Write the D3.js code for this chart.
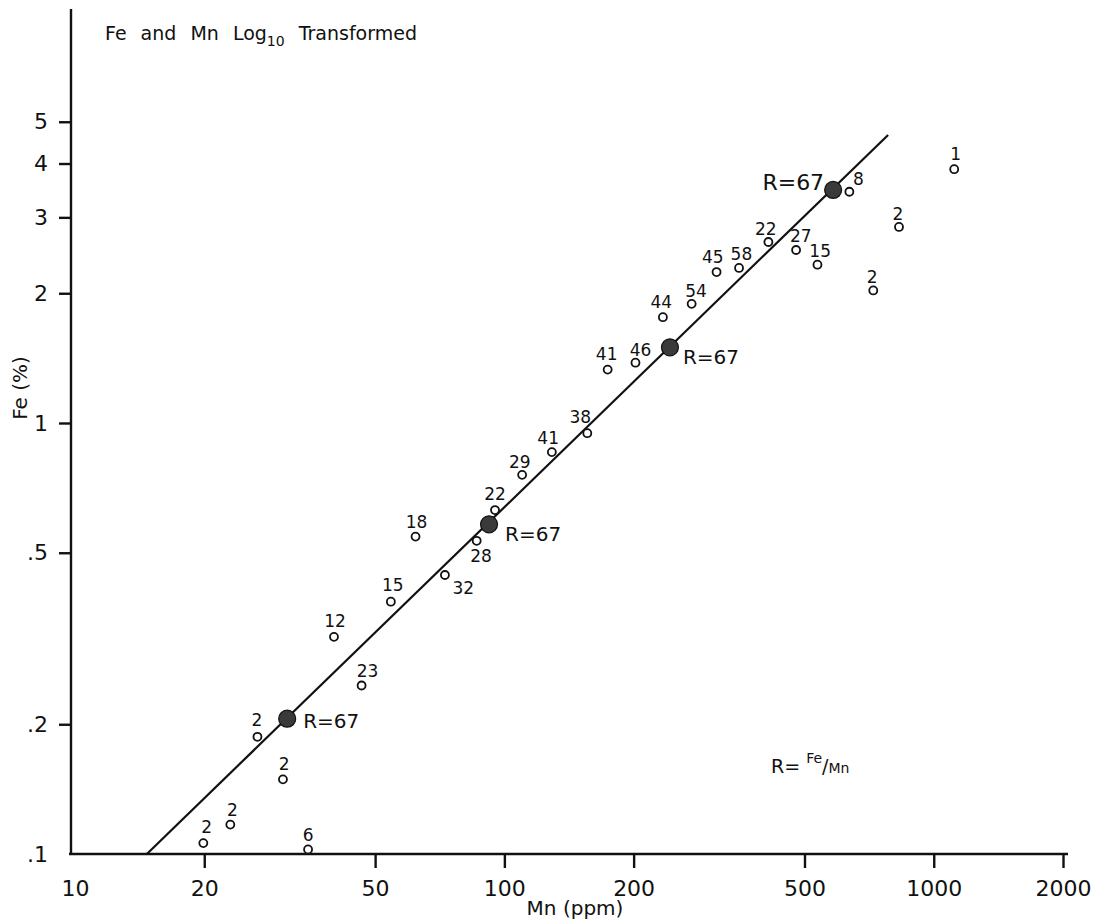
<!DOCTYPE html>
<html>
<head>
<meta charset="utf-8">
<script src="https://cdn.jsdelivr.net/npm/d3@7"></script>
<style>
  html, body { margin: 0; padding: 0; background: #fff; }
  svg { display: block; font-family: "DejaVu Sans", sans-serif; }
  text { fill: #111; }
</style>
</head>
<body>
<svg id="chart" width="1096" height="921"></svg>
<script>
// ---------------- data ----------------
const xTicks = [10, 20, 50, 100, 200, 500, 1000, 2000];
const xTickLabels = ["10", "20", "50", "100", "200", "500", "1000", "2000"];
const yTicks = [0.1, 0.2, 0.5, 1, 2, 3, 4, 5];
const yTickLabels = [".1", ".2", ".5", "1", "2", "3", "4", "5"];

// sample points: Mn (ppm), Fe (%), number label
const pointLabels = ["1","8","2","22","27","15","58","45","2","54","44","46","41","38","41","29","22","28","18","32","15","12","23","2","2","2","2","6"];
const pointMn = [1116, 636, 830, 412, 478, 536, 352, 312, 723, 273, 234, 202, 174, 156, 129, 110, 95.1, 86.2, 62.1, 72.7, 54.4, 40.1, 46.5, 26.6, 30.5, 23.0, 19.9, 34.9];
const pointFe = [3.88, 3.44, 2.85, 2.63, 2.52, 2.33, 2.29, 2.24, 2.03, 1.89, 1.76, 1.38, 1.33, 0.947, 0.856, 0.758, 0.628, 0.533, 0.545, 0.444, 0.385, 0.319, 0.246, 0.187, 0.149, 0.117, 0.106, 0.1025];

// reference points on the R = 67 line
const refMn = [31.2, 92.1, 243, 583];
const refFe = [0.206, 0.582, 1.498, 3.473];
const refLabels = ["R=67", "R=67", "R=67", "R=67"];

// R = 67 line end points
const lineMn = [14.7, 783];
const lineFe = [0.1, 4.66];

// ---------------- layout (not data) ----------------
const labelOffsets = [
  [1.4,-15],[9,-13],[-1,-13.3],[-2.6,-12.7],[4.7,-14],[2.7,-14],[2.4,-14],[-3.7,-15],
  [-1,-13.7],[4.3,-12.6],[-1.6,-15],[5,-13],[-1,-15.3],[-7,-16],[-3.7,-14.7],[-2.3,-12.7],
  [0,-16],[4.3,14.6],[1,-15],[18.3,12.7],[2,-16.7],[1,-16],[6,-14.4],[-0.6,-17],
  [1.3,-15.7],[2,-15],[3.4,-16],[0,-14.3]
];
const refLabelLayout = [
  {dx: 16, dy: 1.7, anchor: "start", size: 20},
  {dx: 16, dy: 9, anchor: "start", size: 20},
  {dx: 13, dy: 9, anchor: "start", size: 20},
  {dx: -9, dy: -8, anchor: "end", size: 22}
];

const svg = d3.select("#chart");
svg.append("rect").attr("width", 1096).attr("height", 921).attr("fill", "#fff");

const x = d3.scaleLog().domain([10, 2000]).range([75, 1063]);
const y = d3.scaleLog().domain([0.1, 10]).range([854, -8]);

const axisX0 = 71;           // y-axis position
const axisY0 = y(0.1);       // x-axis position

// axis lines
svg.append("line")
  .attr("x1", axisX0).attr("x2", axisX0)
  .attr("y1", axisY0 + 1).attr("y2", y(9.13))
  .attr("stroke", "#111").attr("stroke-width", 2.4);
svg.append("line")
  .attr("x1", axisX0 - 2).attr("x2", x(2000) + 5)
  .attr("y1", axisY0).attr("y2", axisY0)
  .attr("stroke", "#111").attr("stroke-width", 2.4);

// x axis
const gx = svg.append("g")
  .attr("transform", `translate(0,${axisY0})`)
  .call(d3.axisBottom(x).tickValues(xTicks)
    .tickFormat((d, i) => xTickLabels[i])
    .tickSize(14).tickPadding(12));
gx.select(".domain").remove();
gx.selectAll(".tick line").attr("stroke", "#111").attr("stroke-width", 2.4)
  .filter(d => d === 10).remove();
gx.selectAll(".tick text").attr("font-size", 22).attr("font-family", "DejaVu Sans").attr("fill", "#111");

// y axis
const gy = svg.append("g")
  .attr("transform", `translate(${axisX0},0)`)
  .call(d3.axisLeft(y).tickValues(yTicks)
    .tickFormat((d, i) => yTickLabels[i])
    .tickSize(12).tickPadding(11));
gy.select(".domain").remove();
gy.selectAll(".tick line").attr("stroke", "#111").attr("stroke-width", 2.4)
  .filter(d => d === 0.1).remove();
gy.selectAll(".tick text").attr("font-size", 22).attr("font-family", "DejaVu Sans").attr("fill", "#111");

// axis titles
svg.append("text")
  .attr("x", 575).attr("y", 915)
  .attr("text-anchor", "middle").attr("font-size", 20)
  .text("Mn (ppm)");
svg.append("text")
  .attr("transform", "translate(27,388) rotate(-90)")
  .attr("text-anchor", "middle").attr("font-size", 20)
  .text("Fe (%)");

// title
const title = svg.append("text")
  .attr("x", 105).attr("y", 40)
  .attr("font-size", 19).attr("word-spacing", 8);
title.append("tspan").text("Fe and Mn Log");
title.append("tspan").attr("font-size", 14).attr("dy", 6).text("10");
title.append("tspan").attr("dy", -6).text(" Transformed");

// R = Fe/Mn note
const note = svg.append("text").attr("x", 771).attr("y", 773).attr("font-size", 19);
note.append("tspan").text("R= ");
note.append("tspan").attr("font-size", 14).attr("dy", -10).text("Fe");
note.append("tspan").attr("dy", 10).text("/");
note.append("tspan").attr("font-size", 14).text("Mn");

// R = 67 line
svg.append("line")
  .attr("x1", x(lineMn[0])).attr("y1", y(lineFe[0]))
  .attr("x2", x(lineMn[1])).attr("y2", y(lineFe[1]))
  .attr("stroke", "#111").attr("stroke-width", 2.2);

// sample points
const pts = pointMn.map((m, i) => ({mn: m, fe: pointFe[i], label: pointLabels[i], off: labelOffsets[i]}));
svg.append("g").selectAll("circle").data(pts).join("circle")
  .attr("cx", d => x(d.mn)).attr("cy", d => y(d.fe))
  .attr("r", 4).attr("fill", "#fff").attr("stroke", "#111").attr("stroke-width", 1.8);
svg.append("g").selectAll("text").data(pts).join("text")
  .attr("x", d => x(d.mn) + d.off[0]).attr("y", d => y(d.fe) + d.off[1])
  .attr("dy", "0.36em").attr("text-anchor", "middle").attr("font-size", 17)
  .text(d => d.label);

// reference points
const refs = refMn.map((m, i) => ({mn: m, fe: refFe[i], label: refLabels[i], lay: refLabelLayout[i]}));
svg.append("g").selectAll("circle").data(refs).join("circle")
  .attr("cx", d => x(d.mn)).attr("cy", d => y(d.fe))
  .attr("r", 8.5).attr("fill", "#3a3a3a").attr("stroke", "#111").attr("stroke-width", 1.2);
svg.append("g").selectAll("text").data(refs).join("text")
  .attr("x", d => x(d.mn) + d.lay.dx).attr("y", d => y(d.fe) + d.lay.dy)
  .attr("dy", "0.36em").attr("text-anchor", d => d.lay.anchor).attr("font-size", d => d.lay.size)
  .text(d => d.label);
</script>
</body>
</html>
